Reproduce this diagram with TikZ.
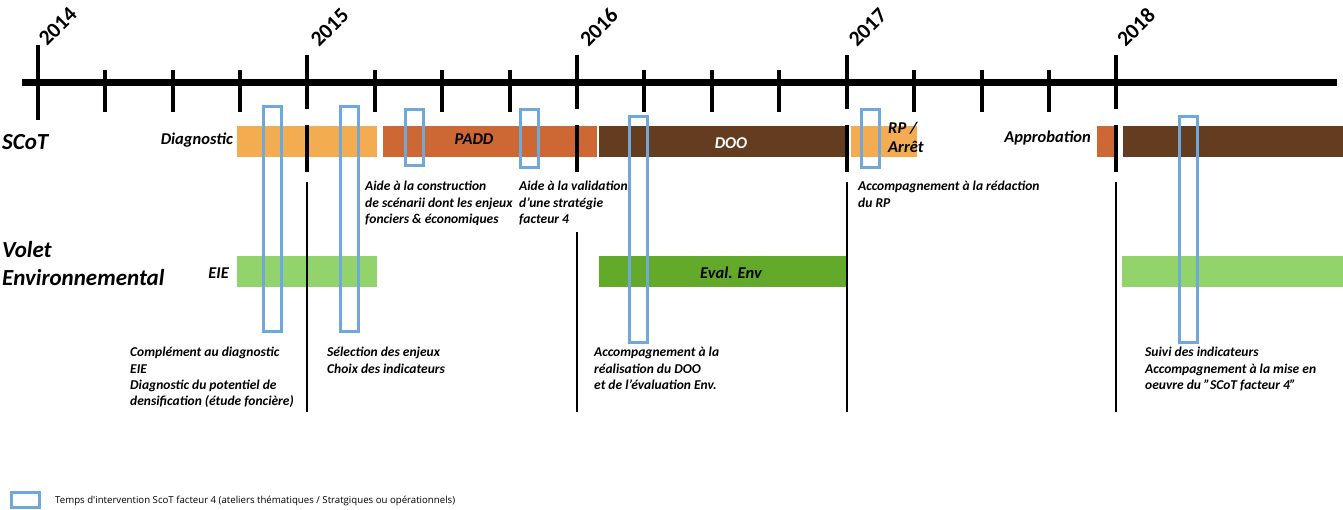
\documentclass[tikz,border=0pt]{standalone}
\usepackage{fontspec}
\setmainfont{Carlito}
\newfontfamily\legendfont{Open Sans}
\definecolor{lorange}{HTML}{F3AC4F}
\definecolor{dorange}{HTML}{CD6734}
\definecolor{brownbar}{HTML}{643D20}
\definecolor{lgreen}{HTML}{92D36B}
\definecolor{dgreen}{HTML}{63AA2A}
\definecolor{fblue}{HTML}{6FA8DC}
\begin{document}
\begin{tikzpicture}[x=1pt,y=-1pt,
  bar/.style={draw=none,inner sep=0,outer sep=0,anchor=north west},
  scotbar/.style={bar,minimum height=31},
  envbar/.style={bar,minimum height=31},
  yearlbl/.style={font=\fontsize{21.5}{22}\selectfont\bfseries,anchor=base west,inner sep=0},
  biglbl/.style={font=\fontsize{23}{28}\selectfont\bfseries\itshape,anchor=west,inner sep=0,align=left},
  barlbl/.style={font=\fontsize{16.5}{19}\selectfont\bfseries\itshape,inner sep=0,align=left},
  note/.style={font=\fontsize{13.5}{16.4}\selectfont\bfseries\itshape,anchor=north west,inner sep=0,align=left},
  major/.style={line width=4pt},
  minor/.style={line width=4pt},
  thin/.style={line width=2pt},
  f4/.style={draw=fblue,line width=3pt,inner sep=0,fill=none},
]
\useasboundingbox (0,0) rectangle (1343,510);

% main time line
\coordinate (tl0) at (22,83);
\coordinate (tl1) at (1337,83);
\draw[line width=7pt] (tl0) -- (tl1);

% major ticks
\draw[major] (38,45) -- (38,120);
\foreach \x in {307,577,847,1116} \draw[major] (\x,55) -- (\x,109);
% minor ticks
\foreach \x in {105,173,240,375,442,510,644,712,779,914,982,1049} \draw[minor] (\x,70) -- (\x,112);

% years
\node[yearlbl] (y2014) at (37,47) {\rotatebox{45}{2014}};
\node[yearlbl] (y2015) at (309,48) {\rotatebox{45}{2015}};
\node[yearlbl] (y2016) at (578,48) {\rotatebox{45}{2016}};
\node[yearlbl] (y2017) at (847,48) {\rotatebox{45}{2017}};
\node[yearlbl] (y2018) at (1115,48) {\rotatebox{45}{2018}};

% SCoT bars
\node[scotbar,fill=lorange,minimum width=140] (diag) at (237,126) {};
\node[scotbar,fill=dorange,minimum width=214] (padd) at (383,126) {};
\node[scotbar,fill=brownbar,minimum width=249] (doo) at (599,126) {};
\node[scotbar,fill=lorange,minimum width=66] (rp) at (851,126) {};
\node[scotbar,fill=dorange,minimum width=21] (appro) at (1097,126) {};
\node[scotbar,fill=brownbar,minimum width=220] (doo2) at (1123,126) {};

% Env bars
\node[envbar,fill=lgreen,minimum width=140] (eie) at (237,256) {};
\node[envbar,fill=dgreen,minimum width=249] (eval) at (599,256) {};
\node[envbar,fill=lgreen,minimum width=221] (env2) at (1122,256) {};

% black segments in SCoT row
\foreach \x in {307,577,847,1116} \draw[major] (\x,125) -- (\x,172);
% thin year lines
\draw[thin] (307,182) -- (307,412);
\draw[thin] (577,232) -- (577,412);
\draw[thin] (847,182) -- (847,412);
\draw[thin] (1116,182) -- (1116,412);

% row titles
\node[biglbl] (scot) at (2,142) {SCoT};
\node[biglbl,anchor=north west] (volet) at (2,241) {Volet\\Environnemental};

% bar labels
\node[barlbl,anchor=east] (ldiag) at (233,140) {Diagnostic};
\node[barlbl] (lpadd) at (474,139) {PADD};
\node[barlbl,text=white] (ldoo) at (731,143) {DOO};
\node[barlbl,anchor=north west] (lrp) at (888,122) {RP /\\Arrêt};
\node[barlbl,anchor=east] (lappro) at (1091,138) {Approbation};
\node[barlbl,anchor=east] (leie) at (229,273) {EIE};
\node[barlbl] (leval) at (731,273) {Eval. Env};

% annotations
\node[note] (n1) at (365,181) {Aide à la construction\\de scénarii dont les enjeux\\fonciers \& économiques};
\node[note] (n2) at (519,181) {Aide à la validation\\d'une stratégie\\facteur 4};
\node[note] (n3) at (858,181) {Accompagnement à la rédaction\\du RP};
\node[note] (n4) at (130,347) {Complément au diagnostic\\EIE\\Diagnostic du potentiel de\\densification (étude foncière)};
\node[note] (n5) at (327,347) {Sélection des enjeux\\Choix des indicateurs};
\node[note] (n6) at (594,347) {Accompagnement à la\\réalisation du DOO\\et de l'évaluation Env.};
\node[note] (n7) at (1145,347) {Suivi des indicateurs\\Accompagnement à la mise en\\oeuvre du "SCoT facteur 4"};

% facteur 4 interventions
\draw[f4] (263,107) rectangle (281,332);
\draw[f4] (340,107) rectangle (358,332);
\draw[f4] (405,110) rectangle (423,166);
\draw[f4] (520,110) rectangle (538,168);
\draw[f4] (629,117) rectangle (647,342);
\draw[f4] (861,110) rectangle (879,168);
\draw[f4] (1179,117) rectangle (1197,342);

% legend
\node[f4,minimum width=28,minimum height=15] (legbox) at (25.5,500) {};
\node[font=\legendfont\fontsize{9.65}{12}\selectfont,anchor=west,inner sep=0] (legtxt) at (55,501) {Temps d'intervention ScoT facteur 4 (ateliers thématiques / Stratgiques ou opérationnels)};
\end{tikzpicture}
\end{document}
